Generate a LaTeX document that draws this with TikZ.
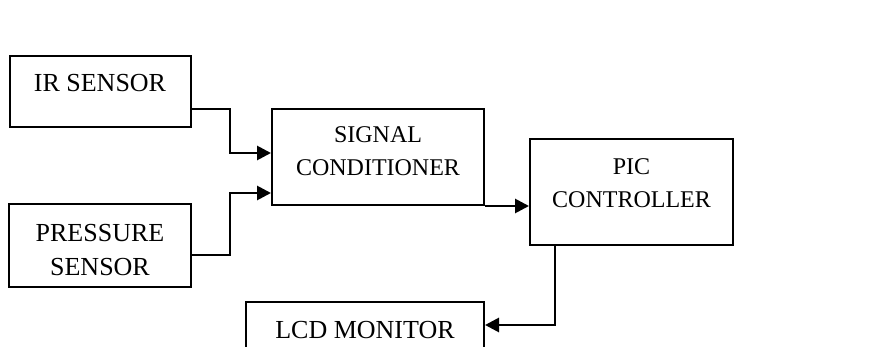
\documentclass[tikz,border=0pt]{standalone}
\usepackage{fontspec}
\setmainfont{Liberation Serif}
\usetikzlibrary{positioning,arrows.meta}
\tikzset{
  blk/.style={draw,line width=1pt,inner sep=0pt},
  lbl/.style={align=center,inner sep=0pt,font=\fontsize{13}{17}\selectfont},
  lbls/.style={align=center,inner sep=0pt,font=\fontsize{12}{16.5}\selectfont},
  conn/.style={line width=1.4pt,-{Triangle[length=7pt,width=7pt]}}
}

\begin{document}
\begin{tikzpicture}[x=0.5pt,y=-0.5pt]
\clip (0,0) rectangle (887,347);
\node[blk,minimum width=90.5pt,minimum height=35.5pt] (ir) at (100,91.5) {};
\node[blk,minimum width=91pt,minimum height=41.5pt] (pres) at (100,245.5) {};
\node[blk,minimum width=106pt,minimum height=48pt] (sc) at (378,157) {};
\node[blk,minimum width=101.5pt,minimum height=53pt] (pic) at (631.5,192) {};
\node[blk,minimum width=119pt,minimum height=30pt] (lcd) at (365,332) {};
\node[lbl] (irtext) at (100,83) {IR SENSOR};
\node[lbl] (prestext) at (100,250) {PRESSURE\\SENSOR};
\node[lbls] (sctext) at (378,151) {SIGNAL\\CONDITIONER};
\node[lbls] (pictext) at (631.5,183) {PIC\\CONTROLLER};
\node[lbl] (lcdtext) at (365,330) {LCD MONITOR};
\draw[conn] (ir.east |- 0,109) -- (230,109) |- (sc.west |- 0,153);
\draw[conn] (pres.east |- 0,255) -- (230,255) |- (sc.west |- 0,193);
\draw[conn] (sc.south east) -- (pic.west |- sc.south east);
\draw[conn] ([xshift=13pt]pic.south west) |- (lcd.east |- 0,325);
\end{tikzpicture}
\end{document}
